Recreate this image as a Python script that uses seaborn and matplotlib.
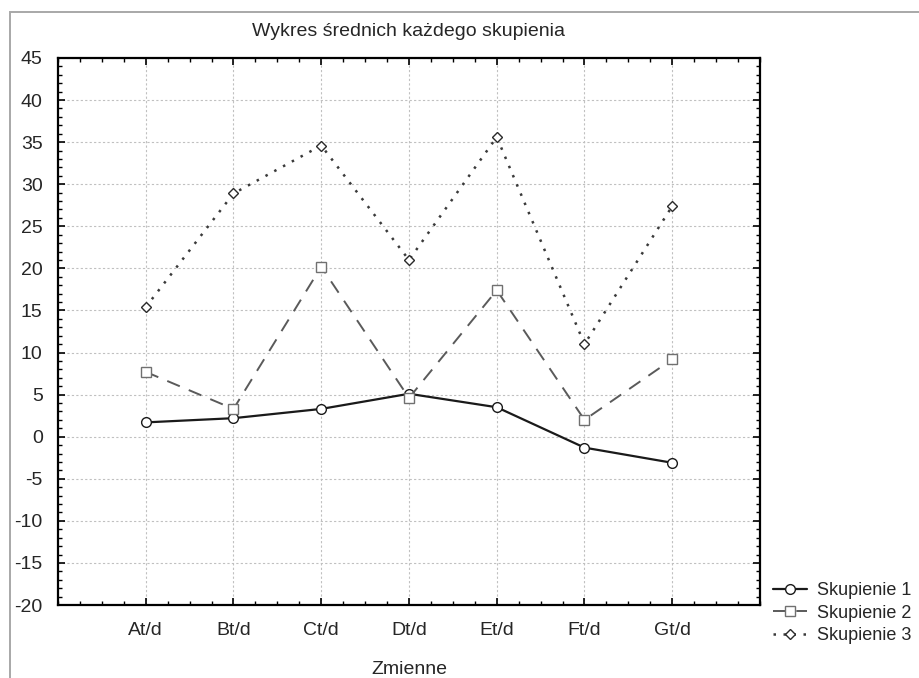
"""
Wykres średnich każdego skupienia (profile średnich dla 3 skupień).
"""
import matplotlib
matplotlib.use("Agg")
import matplotlib.pyplot as plt
from matplotlib.patches import Rectangle
from matplotlib.ticker import MultipleLocator
import seaborn as sns

# ============================
# Dane
# ============================
zmienne = ["At/d", "Bt/d", "Ct/d", "Dt/d", "Et/d", "Ft/d", "Gt/d"]
skupienie_1 = [1.7, 2.2, 3.3, 5.1, 3.5, -1.3, -3.1]
skupienie_2 = [7.7, 3.3, 20.2, 4.6, 17.4, 2.0, 9.2]
skupienie_3 = [15.4, 28.9, 34.6, 21.0, 35.6, 11.0, 27.4]
nazwy = ["Skupienie 1", "Skupienie 2", "Skupienie 3"]

# ============================
# Styl
# ============================
sns.set_theme(style="white")
plt.rcParams["font.family"] = ["Liberation Sans", "DejaVu Sans"]
plt.rcParams["axes.unicode_minus"] = False
FS = 14

fig = plt.figure(figsize=(9.2, 6.78), dpi=100)
ax = fig.add_axes([58 / 920, 1 - 605 / 678, 702 / 920, 547 / 678])

# szara ramka wokół całego wykresu
fig.add_artist(Rectangle((10 / 920, -0.1), 1.2, 1.1 - 12 / 678,
                         transform=fig.transFigure, fill=False,
                         edgecolor="#a8a8a8", linewidth=1.4, clip_on=False))

styles = [
    dict(color="#1a1a1a", linestyle="-", linewidth=1.6, marker="o", ms=7, mec="#1a1a1a"),
    dict(color="#5a5a5a", linestyle=(0, (7, 5)), linewidth=1.4, marker="s", ms=6.5, mec="#707070"),
    dict(color="#3a3a3a", linestyle=(0, (1, 3)), linewidth=1.8, marker="D", ms=5, mec="#2a2a2a"),
]

for vals, name, st in zip([skupienie_1, skupienie_2, skupienie_3], nazwy, styles):
    sns.lineplot(x=zmienne, y=vals, ax=ax, label=name, sort=False,
                 mfc="white", mew=1.0, **st)

# ============================
# Osie
# ============================
ax.set_xlim(-1, 7)
ax.set_ylim(-20, 45)
ax.set_xticks(range(len(zmienne)))
ax.set_xticklabels(zmienne)
ax.xaxis.set_minor_locator(MultipleLocator(0.25))
ax.yaxis.set_major_locator(MultipleLocator(5))
ax.yaxis.set_minor_locator(MultipleLocator(1))

ax.grid(True, which="major", color="#c0c0c0", linestyle=(0, (2, 2)), linewidth=0.8)
ax.set_axisbelow(True)

for sp in ax.spines.values():
    sp.set_color("black")
    sp.set_linewidth(1.6)

ax.tick_params(which="both", direction="in", top=True, right=True,
               bottom=True, left=True, color="black")
ax.tick_params(which="major", length=5, width=1.2)
ax.tick_params(which="minor", length=3, width=1.0)
ax.tick_params(axis="y", which="major", labelsize=FS, pad=11)
ax.tick_params(axis="x", which="major", labelsize=FS, pad=12)

ax.set_xlabel("Zmienne", fontsize=FS, labelpad=16)
ax.set_ylabel("")
ax.set_title("Wykres średnich każdego skupienia", fontsize=FS, pad=16)

leg = ax.legend(loc="lower left", bbox_to_anchor=(773 / 920, 34 / 678),
                bbox_transform=fig.transFigure, frameon=False, fontsize=13,
                handlelength=1.9, handletextpad=0.55, labelspacing=0.3,
                borderaxespad=0, borderpad=0)

fig.savefig("out.png", dpi=100)
